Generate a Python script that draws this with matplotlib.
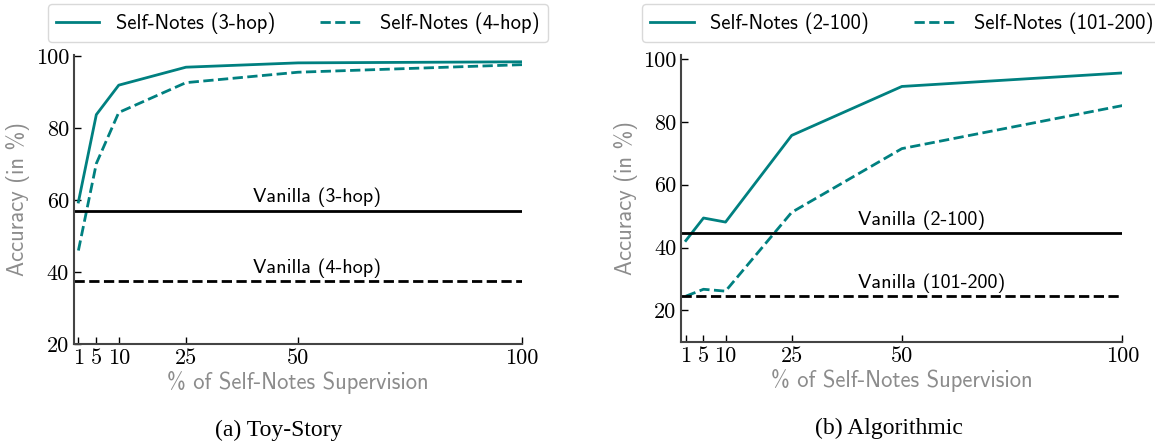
import matplotlib
matplotlib.use('Agg')
import matplotlib.pyplot as plt

plt.rcParams['axes.formatter.use_mathtext'] = True

# supervision levels (%)
x_pct = [1, 5, 10, 25, 50, 100]
xticks = [1, 5, 10, 25, 50, 100]

# (a) Toy-Story
toy_3hop = [59.5, 83.8, 92.0, 97.0, 98.2, 98.5]
toy_4hop = [46.0, 70.2, 84.4, 92.7, 95.6, 97.7]
toy_vanilla_3hop = 57.0
toy_vanilla_4hop = 37.5

# (b) Algorithmic
alg_2_100 = [42.2, 49.4, 48.1, 75.7, 91.3, 95.6]
alg_101_200 = [24.5, 26.7, 26.1, 51.2, 71.5, 85.2]
alg_vanilla_2_100 = 44.6
alg_vanilla_101_200 = 24.4

teal = '#008080'
gray_lbl = '#8c8c8c'
spine_c = '#444444'
sans = ['cmss10', 'DejaVu Sans']

fig = plt.figure(figsize=(11.55, 4.44), dpi=100)
ax1 = fig.add_axes([0.064, 0.2252, 0.388, 0.651])
ax2 = fig.add_axes([0.590, 0.2304, 0.3817, 0.6456])


def style(ax, yticks, ylim):
    for s in ['top', 'right']:
        ax.spines[s].set_visible(False)
    for s in ['left', 'bottom']:
        ax.spines[s].set_color(spine_c)
        ax.spines[s].set_linewidth(1.5)
    ax.set_xlim(0, 100)
    ax.set_ylim(*ylim)
    ax.set_xticks(xticks)
    ax.set_xticklabels([str(t) for t in xticks])
    ax.set_yticks(yticks)
    ax.set_yticklabels([str(t) for t in yticks])
    ax.tick_params(direction='in', length=5, width=1, colors='black',
                   labelsize=16)
    for lab in ax.get_xticklabels() + ax.get_yticklabels():
        lab.set_fontfamily('cmr10')
    ax.set_xlabel('% of Self-Notes Supervision', color=gray_lbl,
                  fontsize=16.3, family=sans, labelpad=2)
    ax.set_ylabel('Accuracy (in %)', color=gray_lbl, fontsize=16.3,
                  family=sans, labelpad=4)


# left panel
ax1.plot(x_pct, toy_3hop, color=teal, lw=2, label='Self-Notes (3-hop)')
ax1.plot(x_pct, toy_4hop, color=teal, lw=2, ls='--', label='Self-Notes (4-hop)')
ax1.axhline(toy_vanilla_3hop, color='black', lw=2)
ax1.axhline(toy_vanilla_4hop, color='black', lw=2, ls='--')
ax1.text(40, toy_vanilla_3hop + 1.0, 'Vanilla (3-hop)', fontsize=14.5,
         family=sans, va='bottom')
ax1.text(40, toy_vanilla_4hop + 1.0, 'Vanilla (4-hop)', fontsize=14.5,
         family=sans, va='bottom')
style(ax1, [20, 40, 60, 80, 100], (20, 100.4))

# right panel
ax2.plot(x_pct, alg_2_100, color=teal, lw=2, label='Self-Notes (2-100)')
ax2.plot(x_pct, alg_101_200, color=teal, lw=2, ls='--', label='Self-Notes (101-200)')
ax2.axhline(alg_vanilla_2_100, color='black', lw=2)
ax2.axhline(alg_vanilla_101_200, color='black', lw=2, ls='--')
ax2.text(40, alg_vanilla_2_100 + 1.0, 'Vanilla (2-100)', fontsize=14.5,
         family=sans, va='bottom')
ax2.text(40, alg_vanilla_101_200 + 1.0, 'Vanilla (101-200)', fontsize=14.5,
         family=sans, va='bottom')
style(ax2, [20, 40, 60, 80, 100], (10, 101.3))

for ax in (ax1, ax2):
    ax.legend(loc='lower center', bbox_to_anchor=(0.5, 1.045), ncol=2,
              prop={'family': sans, 'size': 14.8}, frameon=True,
              edgecolor='#d0d0d0', handlelength=2.1, handletextpad=0.8,
              columnspacing=2.2, borderaxespad=0, fancybox=True)

fig.text(0.241, 0.03, '(a) Toy-Story', ha='center', va='center',
         family='Liberation Serif', fontsize=17)
fig.text(0.770, 0.034, '(b) Algorithmic', ha='center', va='center',
         family='Liberation Serif', fontsize=17)

fig.savefig('out.png', dpi=100)
